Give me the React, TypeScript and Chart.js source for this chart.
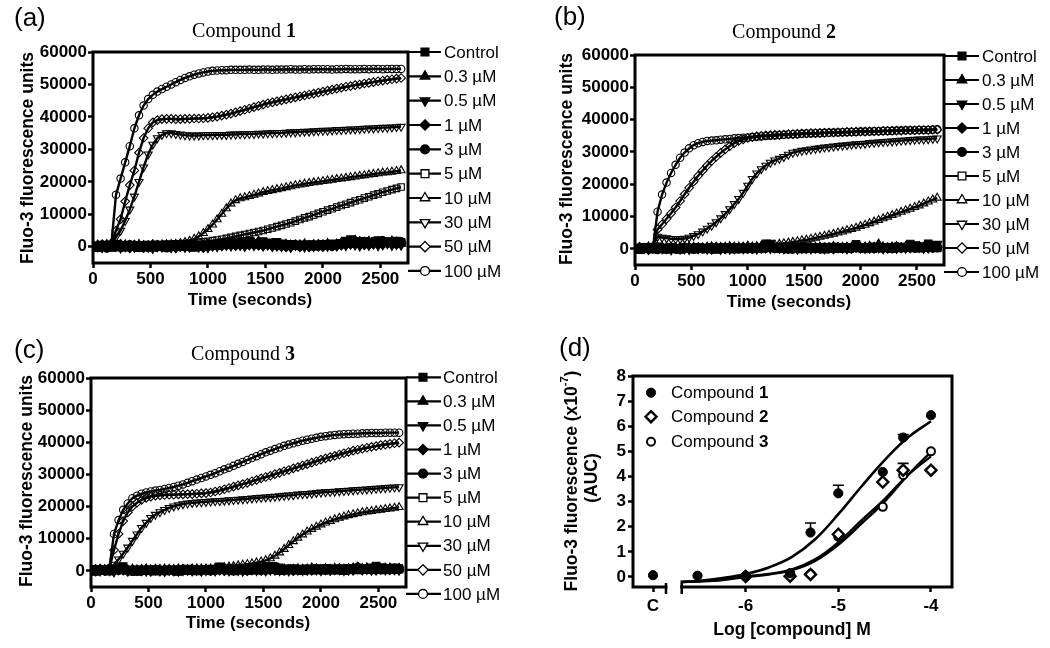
import React, { useEffect, useRef } from "react";
import { Chart, registerables } from "chart.js";
Chart.register(...registerables);

const SANS = 'Arial, "Liberation Sans", Helvetica, sans-serif';
const SERIF = '"Times New Roman", "Liberation Serif", Times, serif';

// ---------- shared axes / labels ----------
const TIME_S = [
  0, 40, 80, 120, 160, 200, 240, 280, 320, 360,
  400, 440, 480, 520, 560, 600, 640, 680, 720, 760,
  800, 840, 880, 920, 960, 1000, 1040, 1080, 1120, 1160,
  1200, 1240, 1280, 1320, 1360, 1400, 1440, 1480, 1520, 1560,
  1600, 1640, 1680, 1720, 1760, 1800, 1840, 1880, 1920, 1960,
  2000, 2040, 2080, 2120, 2160, 2200, 2240, 2280, 2320, 2360,
  2400, 2440, 2480, 2520, 2560, 2600, 2640, 2680,
];
const TIME_TICKS = [0, 500, 1000, 1500, 2000, 2500];
const FLUO_TICKS = [0, 10000, 20000, 30000, 40000, 50000, 60000];
const TIME_MAX = 2740;
const FLUO_MIN = -5000;
const FLUO_MAX = 60000;
const LEGEND_LABELS = ["Control", "0.3 \u00b5M", "0.5 \u00b5M", "1 \u00b5M", "3 \u00b5M", "5 \u00b5M", "10 \u00b5M", "30 \u00b5M", "50 \u00b5M", "100 \u00b5M"];
const UNITS_PER_K = 1000; // trace values below are in thousands of fluorescence units

// ---------- Compound 1 traces (x1000 units) ----------
const A_CTRL = [0.2,-0.3,0.5,0.1,-0.2,0.8,0.3,-0.1,0.4,0.0, -0.3,0.2,0.5,-0.2,0.1,0.3,-0.1,0.4,0.2,0.0, 0.5,0.3,-0.2,0.6,0.1,0.4,0.7,0.3,0.9,1.2, 0.8,1.5,1.0,1.3,1.8,1.1,0.9,1.6,1.2,0.7, 1.4,0.9,0.5,0.8,0.3,0.6,0.4,0.7,0.2,0.5, 0.8,0.4,0.9,0.6,1.1,1.8,2.2,1.5,1.2,1.7, 1.0,1.4,1.9,1.3,1.6,1.1,1.8,1.4];
const A_03 = [-0.1,0.4,0.0,0.6,0.3,-0.4,0.2,0.5,-0.2,0.3, 0.6,0.0,-0.3,0.4,0.2,-0.1,0.5,0.1,0.3,-0.2, 0.2,0.6,0.1,-0.1,0.4,0.8,0.2,0.6,0.3,0.7, 1.1,0.6,1.4,0.9,0.5,1.2,1.7,0.8,0.4,0.9, 0.6,0.2,0.7,0.4,0.1,0.5,0.8,0.3,0.6,0.2, 0.5,0.9,0.3,0.7,1.2,0.8,1.4,1.9,0.9,1.3, 1.6,0.8,1.2,1.5,0.9,1.7,1.2,1.0];
const A_05 = [0.5,0.1,-0.2,0.3,0.7,0.2,-0.3,0.4,0.1,-0.1, 0.2,0.5,0.0,-0.4,0.3,0.1,0.6,-0.2,0.3,0.5, -0.1,0.2,0.4,0.0,0.3,-0.2,0.5,0.1,0.4,0.6, 0.3,0.9,0.5,0.2,0.7,0.4,0.8,0.3,0.6,0.2, 0.4,0.1,0.3,-0.1,0.5,0.2,0.0,0.4,0.1,0.3, 0.6,0.2,0.5,0.3,0.8,0.4,0.9,0.6,0.3,0.8, 0.5,0.9,0.4,0.7,1.0,0.5,0.8,0.6];
const A_1 = [-0.2,0.3,0.6,-0.1,0.2,0.4,0.7,0.0,-0.3,0.5, 0.1,-0.2,0.3,0.6,0.0,-0.1,0.2,0.5,-0.3,0.1, 0.4,-0.1,0.3,0.2,-0.2,0.5,0.2,0.8,0.4,0.5, 1.0,0.4,0.7,1.3,0.6,0.9,0.5,1.1,0.8,0.3, 0.2,0.5,0.0,0.3,0.6,0.1,0.4,0.0,0.3,0.7, 0.1,0.6,0.3,0.8,0.5,1.3,0.9,1.1,1.6,0.7, 1.2,0.9,1.5,0.8,1.3,1.0,1.4,0.9];
const A_3 = [0.3,0.0,0.2,-0.4,0.5,0.1,-0.2,0.3,0.6,0.2, 0.0,0.4,-0.2,0.3,0.5,0.1,-0.3,0.2,0.4,0.1, 0.3,0.0,0.6,0.2,0.5,0.1,0.4,0.9,0.5,0.8, 1.3,0.7,1.0,0.6,1.4,0.8,1.2,0.5,0.9,0.4, 0.8,0.3,0.6,0.2,0.5,0.1,0.4,0.3,0.6,0.2, 0.4,0.7,0.2,0.5,0.9,1.4,1.0,1.7,1.2,1.5, 0.8,1.6,1.1,1.8,1.2,1.4,0.9,1.5];
const A_5 = [0.2,0.4,0.3,0.5,0.4,0.6,0.3,0.5,0.4,0.6, 0.5,0.4,0.6,0.5,0.7,0.6,0.8,0.7,0.9,0.9, 1.0,1.1,1.2,1.3,1.5,1.7,1.9,2.1,2.3,2.6, 2.9,3.2,3.5,3.8,4.1,4.4,4.7,5.0,5.4,5.8, 6.2,6.6,7.0,7.4,7.9,8.4,8.9,9.3,9.8,10.3, 10.8,11.3,11.7,12.2,12.7,13.1,13.6,14.1,14.5,15.0, 15.4,15.9,16.3,16.8,17.2,17.6,18.0,18.4];
const A_10 = [0.3,0.5,0.2,0.4,0.3,0.6,0.4,0.3,0.5,0.4, 0.6,0.5,0.4,0.6,0.5,0.7,0.6,0.8,0.9,1.1, 1.4,1.8,2.4,3.2,4.2,5.4,6.8,8.4,10.1,11.8, 13.3,14.3,14.9,15.2,15.6,16.0,16.4,16.8,17.1,17.4, 17.7,18.0,18.3,18.6,18.9,19.1,19.4,19.6,19.8,20.0, 20.2,20.4,20.6,20.8,21.0,21.2,21.4,21.6,21.8,22.0, 22.2,22.4,22.6,22.8,22.9,23.1,23.3,23.5];
const A_30 = [0.5,0.3,0.6,0.2,0.8,3.0,5.0,8.0,11.5,15.5, 20.0,24.5,28.5,31.5,33.5,34.5,35.0,35.0,34.8,34.6, 34.4,34.3,34.3,34.3,34.4,34.4,34.4,34.5,34.5,34.5, 34.6,34.6,34.7,34.7,34.8,34.8,34.9,34.9,35.0,35.0, 35.1,35.1,35.2,35.3,35.3,35.4,35.5,35.5,35.6,35.7, 35.8,35.8,35.9,36.0,36.0,36.1,36.2,36.2,36.3,36.4, 36.5,36.5,36.6,36.7,36.7,36.8,36.9,37.0];
const A_50 = [0.3,0.5,0.2,0.4,1.0,5.0,8.5,14.0,19.0,23.5, 29.0,33.5,36.5,38.3,39.0,39.3,39.4,39.4,39.3,39.3, 39.4,39.4,39.5,39.5,39.6,39.7,39.9,40.1,40.4,40.7, 41.0,41.4,41.8,42.2,42.6,43.0,43.4,43.8,44.2,44.5, 44.8,45.1,45.4,45.7,46.0,46.3,46.6,46.9,47.2,47.5, 47.8,48.1,48.4,48.7,49.0,49.3,49.5,49.8,50.0,50.3, 50.5,50.7,51.0,51.2,51.4,51.6,51.8,52.0];
const A_100 = [0.4,0.2,0.5,0.3,1.0,16.0,21.0,26.0,31.0,36.5, 40.5,43.5,45.5,46.8,47.8,48.6,49.3,50.0,50.7,51.4, 52.0,52.5,53.0,53.4,53.7,54.0,54.2,54.3,54.4,54.4, 54.5,54.5,54.5,54.5,54.6,54.5,54.5,54.6,54.6,54.5, 54.6,54.6,54.6,54.7,54.6,54.6,54.7,54.6,54.7,54.7, 54.7,54.7,54.6,54.7,54.7,54.8,54.7,54.7,54.7,54.8, 54.7,54.8,54.8,54.7,54.8,54.8,54.8,54.8];

// ---------- Compound 2 traces (x1000 units) ----------
const B_CTRL = [0.1,-0.3,0.4,0.2,-0.1,0.5,0.2,-0.2,0.3,0.0, -0.2,0.3,0.1,-0.1,0.4,0.2,0.0,0.3,-0.2,0.1, 0.4,0.2,-0.1,0.3,0.0,0.2,0.5,0.1,0.3,1.6, 1.5,0.4,0.1,0.3,-0.1,0.2,0.4,0.0,0.3,0.1, 0.5,0.2,-0.1,0.3,0.4,0.1,0.3,0.2,0.5,1.4, 0.3,0.1,0.4,0.6,0.2,0.3,0.5,0.1,0.4,0.3, 0.5,1.5,0.3,0.2,0.6,1.6,0.4,0.3];
const B_03 = [0.3,0.0,-0.2,0.5,0.2,0.1,-0.3,0.4,0.2,-0.1, 0.3,0.0,0.4,0.2,-0.2,0.1,0.3,0.5,0.0,0.2, -0.1,0.3,0.4,0.1,0.2,0.6,0.0,0.3,0.2,0.5, 0.9,0.2,0.4,0.0,0.3,0.1,0.5,0.2,0.0,0.4, 0.2,0.5,0.1,0.3,0.6,0.2,0.4,0.1,0.3,0.5, 0.2,0.4,0.7,0.3,1.4,0.5,0.2,0.4,0.6,0.3, 0.5,0.2,0.6,0.4,0.3,0.7,0.5,0.4];
const B_05 = [-0.1,0.2,0.4,0.0,0.3,0.6,0.1,0.3,-0.2,0.2, 0.4,0.1,-0.1,0.3,0.2,0.5,0.0,0.2,0.4,-0.1, 0.2,0.0,0.3,0.5,0.1,0.4,0.2,0.0,0.3,0.4, 0.2,0.6,0.3,0.1,0.4,0.2,0.0,0.3,0.5,0.1, 0.3,0.4,0.1,0.6,0.2,0.4,0.3,0.1,0.5,1.2, 0.4,0.2,0.5,0.3,0.4,0.1,0.6,0.3,0.2,0.5, 0.3,0.6,1.4,0.5,0.2,0.4,0.6,1.5];
const B_1 = [0.2,0.4,0.0,-0.2,0.3,0.1,0.5,0.0,0.2,0.3, -0.1,0.2,0.4,0.1,0.0,0.3,0.2,-0.1,0.4,0.2, 0.1,0.3,0.0,0.2,0.4,0.1,0.3,0.2,0.5,0.3, 0.7,0.3,0.2,0.4,0.1,0.3,0.2,0.5,0.1,0.3, 0.4,0.1,0.3,0.2,0.0,0.4,0.3,0.5,0.2,0.4, 0.3,0.5,0.2,0.4,0.6,0.3,0.2,0.5,0.4,0.3, 0.6,0.3,0.4,0.7,0.5,0.3,0.4,0.6];
const B_3 = [0.0,0.3,0.1,0.4,0.2,-0.2,0.3,0.1,0.4,0.0, 0.2,0.4,0.1,-0.1,0.3,0.0,0.2,0.4,0.1,0.3, 0.0,0.2,0.4,0.1,0.3,0.2,0.0,0.4,0.1,0.2, 0.5,0.1,0.3,0.2,0.4,0.0,0.3,0.1,0.4,0.2, 0.1,0.3,0.5,0.2,0.1,0.4,0.2,0.3,0.1,0.5, 0.2,0.4,0.3,0.1,0.5,0.3,0.4,0.2,0.6,0.3, 0.4,0.5,0.3,0.6,0.4,0.5,0.3,0.4];
const B_5 = [0.3,0.1,0.4,0.2,0.5,0.8,0.4,0.2,0.5,0.3, 0.1,0.4,0.2,0.5,0.3,0.1,0.4,0.2,0.5,0.3, 0.2,0.5,0.3,0.1,0.4,0.2,0.6,0.3,0.5,0.4, 0.6,0.4,0.2,0.5,0.3,0.6,0.4,0.2,0.5,0.3, 0.4,0.6,0.3,0.5,0.7,0.4,0.6,0.3,0.5,0.7, 0.5,0.3,0.6,0.4,0.7,0.5,0.3,0.6,0.4,0.7, 0.5,0.6,0.4,0.7,0.5,0.6,0.4,0.6];
const B_10 = [0.3,0.5,0.2,0.4,0.6,0.8,0.5,0.3,0.6,0.4, 0.5,0.7,0.4,0.6,0.5,0.3,0.6,0.4,0.7,0.5, 0.6,0.8,0.5,0.7,0.6,0.9,0.7,0.8,1.0,1.1, 1.2,1.3,1.5,1.7,1.9,2.1,2.3,2.6,2.8,3.1, 3.4,3.7,4.0,4.3,4.6,5.0,5.3,5.7,6.1,6.5, 7.0,7.4,7.9,8.4,8.9,9.4,9.9,10.4,10.9,11.4, 11.9,12.4,12.9,13.4,14.0,14.6,15.2,15.8];
const B_30 = [0.4,0.2,0.5,0.3,0.9,3.8,3.5,3.3,3.1,3.0, 3.0,3.2,3.5,4.0,4.6,5.4,6.3,7.2,8.3,9.5, 10.8,12.3,13.9,15.5,17.4,19.6,21.7,23.4,24.7,25.8, 26.7,27.4,27.9,28.5,29.2,29.8,30.1,30.4,30.6,30.8, 31.0,31.2,31.4,31.5,31.7,31.9,32.0,32.1,32.3,32.4, 32.5,32.6,32.8,32.9,33.0,33.1,33.2,33.3,33.4,33.5, 33.6,33.7,33.8,33.9,33.9,34.0,34.1,34.2];
const B_50 = [0.2,0.4,0.1,0.3,0.8,6.0,7.6,9.3,11.0,12.8, 14.8,16.9,18.9,20.8,22.6,24.2,25.8,27.2,28.5,29.7, 30.8,31.8,32.7,33.4,33.9,34.3,34.6,34.8,35.0,35.1, 35.2,35.3,35.3,35.4,35.5,35.5,35.6,35.7,35.7,35.8, 35.8,35.9,35.9,36.0,36.0,36.1,36.1,36.2,36.2,36.3, 36.3,36.3,36.4,36.4,36.4,36.5,36.5,36.6,36.6,36.6, 36.7,36.7,36.7,36.8,36.8,36.8,36.9,36.9];
const B_100 = [0.3,0.1,0.4,0.2,0.6,11.5,16.8,20.5,23.5,26.0, 28.2,29.8,31.1,32.1,32.7,33.1,33.4,33.5,33.6,33.8, 33.9,34.0,34.2,34.3,34.4,34.5,34.6,34.7,34.8,34.9, 35.0,35.1,35.2,35.3,35.4,35.5,35.5,35.6,35.7,35.7, 35.8,35.8,35.9,35.9,36.0,36.0,36.1,36.1,36.2,36.2, 36.3,36.3,36.3,36.4,36.4,36.5,36.5,36.5,36.6,36.6, 36.7,36.7,36.7,36.8,36.8,36.8,36.9,37.0];

// ---------- Compound 3 traces (x1000 units) ----------
const C_CTRL = [0.2,-0.2,0.4,0.1,-0.1,0.5,0.9,1.4,0.3,0.0, -0.2,0.3,0.1,0.4,-0.1,0.2,0.0,0.3,0.1,-0.2, 0.3,0.1,0.4,0.0,0.2,0.5,0.1,0.3,1.3,0.4, 0.2,0.0,0.3,0.5,0.1,0.4,0.2,0.6,0.3,1.2, 0.4,0.1,0.3,0.6,0.2,0.4,0.1,0.5,0.3,0.2, 0.5,0.3,0.6,0.2,0.4,0.1,0.5,0.7,0.3,0.6, 0.4,0.8,1.5,0.5,0.3,0.6,0.4,0.5];
const C_03 = [0.4,0.1,-0.2,0.3,0.5,0.0,0.3,0.8,0.2,0.4, 0.1,-0.1,0.4,0.2,0.0,0.3,0.5,-0.1,0.2,0.4, 0.0,0.3,0.2,0.5,0.1,0.4,0.2,0.0,0.3,0.6, 0.3,0.5,0.1,0.4,0.2,0.6,0.3,0.1,0.5,0.4, 0.7,0.3,0.5,0.2,0.4,0.6,0.3,0.5,0.8,0.4, 0.3,0.6,0.4,0.7,0.5,0.3,0.6,0.8,0.4,0.6, 0.9,0.5,0.7,0.4,0.6,0.8,0.5,0.7];
const C_05 = [-0.1,0.3,0.1,0.5,0.2,-0.2,0.4,0.6,0.1,0.3, 0.4,0.2,0.0,0.3,0.5,0.1,-0.1,0.3,0.4,0.0, 0.2,0.5,0.1,0.3,0.0,0.2,0.4,0.1,0.5,0.3, 0.1,0.4,0.2,0.0,0.3,0.5,0.2,0.4,0.1,0.3, 0.5,0.2,0.4,0.1,0.3,0.5,0.2,0.6,0.3,0.4, 0.2,0.5,0.3,0.6,0.4,0.2,0.5,0.3,0.7,0.4, 0.6,0.3,0.5,0.8,0.4,0.6,0.5,0.3];
const C_1 = [0.3,0.0,0.5,0.2,0.4,0.1,0.7,0.3,0.0,0.2, 0.1,0.4,0.2,-0.1,0.3,0.1,0.4,0.2,0.0,0.3, 0.4,0.2,0.5,0.3,0.1,0.4,0.2,0.5,0.3,0.1, 0.4,0.2,0.6,0.3,0.1,0.4,0.5,0.2,0.3,0.6, 0.3,0.5,0.2,0.4,0.1,0.3,0.5,0.2,0.4,0.6, 0.3,0.5,0.2,0.4,0.7,0.5,0.3,0.6,1.2,0.4, 0.7,0.5,0.3,0.6,0.9,0.4,0.7,0.5];
const C_3 = [0.1,0.4,0.2,0.0,0.3,0.5,0.2,0.4,0.1,-0.1, 0.2,0.0,0.3,0.1,0.4,0.2,0.1,0.3,0.0,0.2, 0.5,0.3,0.1,0.4,0.2,0.3,0.0,0.2,0.4,0.3, 0.5,0.1,0.3,0.2,0.4,0.3,0.6,0.2,0.4,0.7, 1.3,0.4,0.2,0.5,0.3,0.4,0.2,0.5,0.3,0.6, 0.4,0.2,0.5,0.3,0.6,0.4,0.5,0.3,0.6,0.4, 0.5,0.3,0.6,0.4,0.5,0.7,0.4,0.6];
const C_5 = [0.3,0.5,0.1,0.4,0.2,0.6,0.3,0.5,0.2,0.4, 0.5,0.2,0.4,0.3,0.6,0.4,0.2,0.5,0.3,0.6, 0.4,0.7,0.5,0.3,0.6,0.4,0.7,0.5,0.8,0.6, 0.9,0.7,1.0,0.8,1.1,0.9,1.2,1.0,1.3,1.6, 1.4,1.1,0.8,0.6,0.9,0.7,0.5,0.8,0.6,0.9, 0.7,1.0,0.8,0.6,0.9,0.7,1.0,0.8,1.1,0.9, 0.8,1.1,0.9,1.2,1.0,0.9,1.1,1.0];
const C_10 = [0.4,0.2,0.5,0.3,0.6,0.4,0.7,0.5,0.3,0.6, 0.4,0.5,0.7,0.4,0.6,0.5,0.3,0.6,0.5,0.7, 0.6,0.4,0.7,0.5,0.8,0.6,0.7,0.9,1.0,1.1, 1.3,1.5,1.7,1.9,2.1,2.3,2.6,2.9,3.3,3.9, 4.7,5.7,6.8,8.0,9.2,10.3,11.3,12.2,13.0,13.7, 14.4,15.0,15.5,16.0,16.5,16.9,17.3,17.6,17.9,18.2, 18.4,18.6,18.8,19.0,19.2,19.4,19.6,19.8];
const C_30 = [0.4,0.1,0.5,0.3,0.6,2.0,3.6,5.4,7.3,9.4, 11.4,13.4,15.0,16.5,17.5,18.3,19.0,19.6,20.1,20.5, 20.8,21.0,21.2,21.3,21.4,21.5,21.6,21.7,21.8,21.9, 22.0,22.1,22.2,22.3,22.4,22.6,22.7,22.8,22.9,23.0, 23.1,23.3,23.4,23.5,23.6,23.8,23.9,24.0,24.1,24.3, 24.4,24.5,24.6,24.7,24.8,24.9,25.0,25.1,25.2,25.3, 25.4,25.5,25.6,25.7,25.8,25.9,26.0,26.1];
const C_50 = [0.3,0.6,0.2,0.4,0.8,6.5,11.5,15.5,18.2,20.0, 21.2,22.1,22.7,23.1,23.4,23.5,23.6,23.7,23.7,23.8, 23.8,23.9,23.9,24.0,24.1,24.2,24.4,24.7,25.0,25.4, 25.8,26.2,26.6,27.0,27.4,27.9,28.3,28.8,29.2,29.6, 30.1,30.5,31.0,31.4,31.9,32.3,32.8,33.2,33.7,34.1, 34.6,35.0,35.4,35.8,36.2,36.6,37.0,37.4,37.7,38.0, 38.3,38.6,38.8,39.1,39.3,39.5,39.7,39.9];
const C_100 = [0.5,0.2,0.6,0.3,0.9,11.5,15.8,19.0,21.0,22.6, 23.4,24.0,24.4,24.7,25.0,25.2,25.5,25.8,26.1,26.5, 26.9,27.4,27.9,28.4,28.9,29.4,29.9,30.4,31.0,31.6, 32.1,32.7,33.3,33.9,34.5,35.1,35.7,36.3,36.9,37.4, 37.9,38.4,38.9,39.3,39.7,40.1,40.5,40.8,41.1,41.4, 41.7,41.9,42.1,42.3,42.4,42.5,42.6,42.7,42.7,42.8, 42.8,42.9,42.9,42.9,43.0,43.0,43.0,43.0];

// ---------- Panel (d): dose response (AUC x10^-7) ----------
const LOG_CONC = [-7, -6.52, -6, -5.52, -5.3, -5, -4.52, -4.3, -4]; // -7 = control ("C")
const AUC_CMP1 = [0.07, 0.05, 0.05, 0.15, 1.77, 3.33, 4.18, 5.55, 6.44];
const AUC_CMP1_ERR = [0, 0, 0, 0, 0.38, 0.32, 0, 0.12, 0];
const AUC_CMP2 = [null, null, 0.02, 0.03, 0.1, 1.7, 3.78, 4.25, 4.25];
const AUC_CMP2_ERR = [0, 0, 0, 0, 0, 0, 0, 0.27, 0];
const AUC_CMP3 = [null, null, 0.02, 0.1, 0.12, 1.6, 2.79, 4.05, 5.0];
const AUC_CMP3_ERR = [0, 0, 0, 0, 0, 0, 0, 0, 0];
const FIT_X = [-6.7, -6.5, -6.25, -6, -5.75, -5.5, -5.25, -5, -4.75, -4.5, -4.25, -4];
const FIT_CMP1 = [-0.2, -0.15, -0.04, 0.12, 0.38, 0.8, 1.5, 2.5, 3.6, 4.65, 5.55, 6.2];
const FIT_CMP2 = [-0.2, -0.17, -0.1, 0.02, 0.12, 0.3, 0.7, 1.38, 2.25, 3.1, 4.05, 4.8];
const FIT_CMP3 = [-0.2, -0.18, -0.12, 0.0, 0.1, 0.27, 0.64, 1.28, 2.12, 3.0, 4.05, 4.98];
const D_X_TICKS = [-7, -6, -5, -4];
const D_X_TICK_LABELS = ["C", "-6", "-5", "-4"];
const D_Y_TICKS = [0, 1, 2, 3, 4, 5, 6, 7, 8];
const D_LEGEND = ["1", "2", "3"];

// ---------- styling ----------
const SHAPES = ["square", "triUp", "triDown", "diamond", "circle", "square", "triUp", "triDown", "diamond", "circle"];
const FILLED = [true, true, true, true, true, false, false, false, false, false];
const CJS_STYLE: any = {
  square: { s: "rect", rot: 0, r: 4.6 },
  triUp: { s: "triangle", rot: 0, r: 4.6 },
  triDown: { s: "triangle", rot: 180, r: 4.6 },
  diamond: { s: "rectRot", rot: 0, r: 4.3 },
  circle: { s: "circle", rot: 0, r: 3.7 },
};

function drawMarker(ctx: any, shape: string, x: number, y: number, r: number, filled: boolean, lw = 1.3) {
  ctx.beginPath();
  if (shape === "circle") ctx.arc(x, y, r, 0, Math.PI * 2);
  else if (shape === "square") {
    const s = r * Math.SQRT1_2;
    ctx.rect(x - s, y - s, 2 * s, 2 * s);
  } else if (shape === "diamond") {
    ctx.moveTo(x, y - r); ctx.lineTo(x + r, y); ctx.lineTo(x, y + r); ctx.lineTo(x - r, y); ctx.closePath();
  } else {
    let a = shape === "triDown" ? Math.PI : 0;
    ctx.moveTo(x + Math.sin(a) * r, y - Math.cos(a) * r);
    a += (2 * Math.PI) / 3;
    ctx.lineTo(x + Math.sin(a) * r, y - Math.cos(a) * r);
    a += (2 * Math.PI) / 3;
    ctx.lineTo(x + Math.sin(a) * r, y - Math.cos(a) * r);
    ctx.closePath();
  }
  ctx.fillStyle = filled ? "#000" : "#fff";
  ctx.fill();
  ctx.lineWidth = lw;
  ctx.strokeStyle = "#000";
  ctx.stroke();
}

function drawParts(ctx: any, parts: { t: string; font: string; dy?: number }[], cx: number, cy: number, align: "center" | "left") {
  let total = 0;
  parts.forEach((p) => { ctx.font = p.font; total += ctx.measureText(p.t).width; });
  let x = align === "center" ? cx - total / 2 : cx;
  ctx.textAlign = "left";
  ctx.textBaseline = "middle";
  ctx.fillStyle = "#000";
  parts.forEach((p) => {
    ctx.font = p.font;
    ctx.fillText(p.t, x, cy + (p.dy || 0));
    x += ctx.measureText(p.t).width;
  });
}

function rotatedParts(ctx: any, parts: any[], cx: number, cy: number) {
  ctx.save();
  ctx.translate(cx, cy);
  ctx.rotate(-Math.PI / 2);
  drawParts(ctx, parts, 0, 0, "center");
  ctx.restore();
}

const TICK_FONT = { family: SANS, size: 17, weight: "bold" as const };
const YW = 60;
const XH = 30;

function axisCommon(min: number, max: number, ticks: number[], labels: ((v: number) => string), padding: number, isX: boolean) {
  return {
    type: "linear" as const,
    min, max,
    afterBuildTicks: (s: any) => { s.ticks = ticks.map((v) => ({ value: v })); },
    afterFit: (s: any) => { if (isX) s.height = XH; else s.width = YW; },
    ticks: { font: TICK_FONT, color: "#000", padding, autoSkip: false, maxRotation: 0, callback: (v: any) => labels(Number(v)) },
    grid: { display: true, drawOnChartArea: false, drawTicks: true, tickLength: 5, tickWidth: 2.5, tickColor: "#000" },
    border: { display: false },
  };
}

type Geo = { L: number; R: number; T: number; B: number };

function baseOptions(g: Geo, scales: any) {
  return {
    responsive: false,
    animation: false as const,
    devicePixelRatio: 1,
    events: [] as any[],
    layout: { padding: { left: g.L - YW, right: 1050 - g.R, top: g.T, bottom: 648 - g.B - XH } },
    plugins: { legend: { display: false }, tooltip: { enabled: false } },
    scales,
  };
}

type TraceSpec = {
  series: number[][];
  geo: Geo;
  legend: { y0: number; dy: number; lx0: number; lx1: number; mx: number; tx: number };
  num: string;
  title: { x: number; y: number };
  letter: { s: string; x: number; y: number };
  yTitle: { x: number; y: number };
  xTitle: { x: number; y: number };
};

const PANEL_A: TraceSpec = {
  series: [A_CTRL, A_03, A_05, A_1, A_3, A_5, A_10, A_30, A_50, A_100],
  geo: { L: 93, R: 408, T: 52, B: 263 },
  legend: { y0: 52, dy: 24.33, lx0: 408, lx1: 441, mx: 425, tx: 444 },
  num: "1", title: { x: 244, y: 32 }, letter: { s: "(a)", x: 14, y: 19 },
  yTitle: { x: 28, y: 158 }, xTitle: { x: 250, y: 300 },
};
const PANEL_B: TraceSpec = {
  series: [B_CTRL, B_03, B_05, B_1, B_3, B_5, B_10, B_30, B_50, B_100],
  geo: { L: 635, R: 944, T: 55, B: 265 },
  legend: { y0: 56, dy: 24.0, lx0: 944, lx1: 979, mx: 962, tx: 982 },
  num: "2", title: { x: 784, y: 33 }, letter: { s: "(b)", x: 554, y: 18 },
  yTitle: { x: 567, y: 159 }, xTitle: { x: 789, y: 302 },
};
const PANEL_C: TraceSpec = {
  series: [C_CTRL, C_03, C_05, C_1, C_3, C_5, C_10, C_30, C_50, C_100],
  geo: { L: 91, R: 406, T: 378, B: 587 },
  legend: { y0: 377.3, dy: 24.07, lx0: 406, lx1: 441, mx: 423, tx: 443 },
  num: "3", title: { x: 243, y: 355 }, letter: { s: "(c)", x: 14, y: 351 },
  yTitle: { x: 27, y: 481 }, xTitle: { x: 248, y: 623 },
};

function buildTrace(canvas: HTMLCanvasElement, p: TraceSpec) {
  const datasets = p.series.map((vals, k) => {
    const st = CJS_STYLE[SHAPES[k]];
    return {
      label: LEGEND_LABELS[k],
      data: TIME_S.map((t, i) => ({ x: t, y: vals[i] * UNITS_PER_K })),
      borderColor: "#000",
      borderWidth: 2.4,
      tension: 0,
      pointStyle: st.s,
      pointRotation: st.rot,
      pointRadius: FILLED[k] ? st.r * 1.15 : st.r,
      pointBackgroundColor: FILLED[k] ? "#000" : "rgba(255,255,255,0)",
      pointBorderColor: "#000",
      pointBorderWidth: 1.1,
    };
  });
  const decor = {
    id: "decor",
    afterDraw(chart: any) {
      const ctx = chart.ctx;
      const a = chart.chartArea;
      ctx.save();
      ctx.strokeStyle = "#000";
      ctx.lineWidth = 3;
      ctx.strokeRect(a.left, a.top, a.right - a.left, a.bottom - a.top);
      const lg = p.legend;
      LEGEND_LABELS.forEach((lab, k) => {
        const y = lg.y0 + k * lg.dy;
        ctx.lineWidth = 2.2;
        ctx.strokeStyle = "#000";
        ctx.beginPath(); ctx.moveTo(lg.lx0, y); ctx.lineTo(lg.lx1, y); ctx.stroke();
        drawMarker(ctx, SHAPES[k], lg.mx, y, CJS_STYLE[SHAPES[k]].r * 1.2, FILLED[k]);
        drawParts(ctx, [{ t: lab, font: `17px ${SANS}` }], lg.tx, y + 1, "left");
      });
      drawParts(ctx, [{ t: "Compound ", font: `20px ${SERIF}` }, { t: p.num, font: `bold 20px ${SERIF}` }], p.title.x, p.title.y, "center");
      drawParts(ctx, [{ t: p.letter.s, font: `26px ${SANS}` }], p.letter.x, p.letter.y, "left");
      rotatedParts(ctx, [{ t: "Fluo-3 fluorescence units", font: `bold 17.5px ${SANS}` }], p.yTitle.x, p.yTitle.y);
      drawParts(ctx, [{ t: "Time (seconds)", font: `bold 17px ${SANS}` }], p.xTitle.x, p.xTitle.y, "center");
      ctx.restore();
    },
  };
  return new Chart(canvas, {
    type: "line",
    data: { datasets: datasets as any },
    options: baseOptions(p.geo, {
      x: axisCommon(0, TIME_MAX, TIME_TICKS, (v) => String(v), 1, true),
      y: axisCommon(FLUO_MIN, FLUO_MAX, FLUO_TICKS, (v) => String(v), 1, false),
    }) as any,
    plugins: [decor],
  });
}

const GEO_D: Geo = { L: 633, R: 952, T: 376, B: 587 };
const D_BREAK = [-6.86, -6.69];

function buildDose(canvas: HTMLCanvasElement) {
  const pts = (ys: (number | null)[]) => LOG_CONC.map((x, i) => ({ x, y: ys[i] }));
  const fit = (ys: number[]) => FIT_X.map((x, i) => ({ x, y: ys[i] }));
  const datasets: any[] = [
    { data: pts(AUC_CMP1), showLine: false, pointStyle: "circle", pointRadius: 4.6, pointBackgroundColor: "#000", pointBorderColor: "#000", pointBorderWidth: 1, order: 0 },
    { data: pts(AUC_CMP2), showLine: false, pointStyle: "rectRot", pointRadius: 5.5, pointBackgroundColor: "#fff", pointBorderColor: "#000", pointBorderWidth: 2.4, order: 0 },
    { data: pts(AUC_CMP3), showLine: false, pointStyle: "circle", pointRadius: 4, pointBackgroundColor: "#fff", pointBorderColor: "#000", pointBorderWidth: 2, order: 0 },
    { data: fit(FIT_CMP1), pointRadius: 0, borderColor: "#000", borderWidth: 2.6, tension: 0.4, order: 1 },
    { data: fit(FIT_CMP2), pointRadius: 0, borderColor: "#000", borderWidth: 2.4, tension: 0.4, order: 1 },
    { data: fit(FIT_CMP3), pointRadius: 0, borderColor: "#000", borderWidth: 2.4, tension: 0.4, order: 1 },
  ];
  const errs = [
    { ys: AUC_CMP1, e: AUC_CMP1_ERR },
    { ys: AUC_CMP2, e: AUC_CMP2_ERR },
    { ys: AUC_CMP3, e: AUC_CMP3_ERR },
  ];
  const decor = {
    id: "decorD",
    beforeDatasetsDraw(chart: any) {
      const ctx = chart.ctx;
      const xs = chart.scales.x, ys = chart.scales.y;
      ctx.save();
      ctx.strokeStyle = "#000";
      ctx.lineWidth = 1.6;
      errs.forEach(({ ys: vals, e }) => {
        LOG_CONC.forEach((x, i) => {
          const v = vals[i];
          if (!e[i] || v === null) return;
          const px = xs.getPixelForValue(x);
          const y0 = ys.getPixelForValue(v);
          const y1 = ys.getPixelForValue(v + e[i]);
          ctx.beginPath();
          ctx.moveTo(px, y0); ctx.lineTo(px, y1);
          ctx.moveTo(px - 5.5, y1); ctx.lineTo(px + 5.5, y1);
          ctx.stroke();
        });
      });
      ctx.restore();
    },
    afterDraw(chart: any) {
      const ctx = chart.ctx;
      const a = chart.chartArea;
      const xs = chart.scales.x;
      ctx.save();
      ctx.strokeStyle = "#000";
      ctx.lineWidth = 3;
      ctx.lineCap = "square";
      const b1 = xs.getPixelForValue(D_BREAK[0]);
      const b2 = xs.getPixelForValue(D_BREAK[1]);
      ctx.beginPath();
      ctx.moveTo(a.left, a.bottom); ctx.lineTo(a.left, a.top); ctx.lineTo(a.right, a.top); ctx.lineTo(a.right, a.bottom);
      ctx.moveTo(a.right, a.bottom); ctx.lineTo(b2, a.bottom);
      ctx.moveTo(b1, a.bottom); ctx.lineTo(a.left, a.bottom);
      ctx.stroke();
      ctx.lineCap = "butt";
      ctx.lineWidth = 2.5;
      ctx.beginPath();
      ctx.moveTo(b1, a.bottom - 4); ctx.lineTo(b1, a.bottom + 7);
      ctx.moveTo(b2, a.bottom - 4); ctx.lineTo(b2, a.bottom + 7);
      ctx.stroke();
      // legend
      const lx = 651, ly = [392.7, 416.7, 441.7];
      drawMarker(ctx, "circle", lx, ly[0], 4.6, true, 1);
      drawMarker(ctx, "diamond", lx, ly[1], 5.5, false, 2.4);
      drawMarker(ctx, "circle", lx, ly[2], 4, false, 2);
      D_LEGEND.forEach((n, i) => {
        drawParts(ctx, [{ t: "Compound ", font: `17px ${SANS}` }, { t: n, font: `bold 17px ${SANS}` }], 671, ly[i] + 1, "left");
      });
      drawParts(ctx, [{ t: "(d)", font: `26px ${SANS}` }], 559, 349, "left");
      rotatedParts(ctx, [
        { t: "Fluo-3 fluorescence (x10", font: `bold 17.5px ${SANS}` },
        { t: "-7", font: `bold 11px ${SANS}`, dy: -7 },
        { t: ")", font: `bold 17.5px ${SANS}` },
      ], 572, 481);
      rotatedParts(ctx, [{ t: "(AUC)", font: `bold 17.5px ${SANS}` }], 592, 478);
      drawParts(ctx, [{ t: "Log [compound] M", font: `bold 17.5px ${SANS}` }], 792, 630, "center");
      ctx.restore();
    },
  };
  return new Chart(canvas, {
    type: "line",
    data: { datasets },
    options: baseOptions(GEO_D, {
      x: axisCommon(-7.216, -3.773, D_X_TICKS, (v) => D_X_TICK_LABELS[D_X_TICKS.indexOf(v)] ?? "", 4, true),
      y: axisCommon(-0.4, 8, D_Y_TICKS, (v) => String(v), 2, false),
    }) as any,
    plugins: [decor],
  });
}

function ChartCanvas({ build }: { build: (c: HTMLCanvasElement) => Chart }) {
  const ref = useRef<HTMLCanvasElement | null>(null);
  useEffect(() => {
    const chart = build(ref.current as HTMLCanvasElement);
    return () => chart.destroy();
  }, []);
  return (
    <canvas
      ref={ref}
      width={1050}
      height={648}
      style={{ position: "absolute", left: 0, top: 0, width: 1050, height: 648 }}
    />
  );
}

export default function App() {
  return (
    <div style={{ position: "absolute", left: 0, top: 0, width: 1050, height: 648, background: "#fff", overflow: "hidden" }}>
      <ChartCanvas build={(c) => buildTrace(c, PANEL_A)} />
      <ChartCanvas build={(c) => buildTrace(c, PANEL_B)} />
      <ChartCanvas build={(c) => buildTrace(c, PANEL_C)} />
      <ChartCanvas build={buildDose} />
    </div>
  );
}
